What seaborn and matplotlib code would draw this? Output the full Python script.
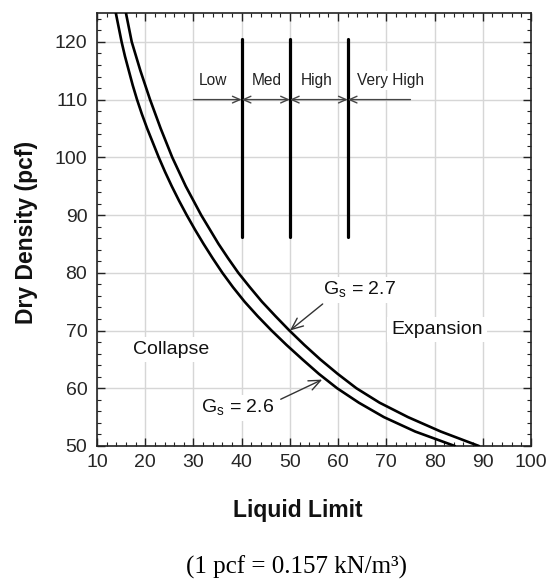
import numpy as np
import pandas as pd
import matplotlib
matplotlib.use("Agg")
import matplotlib.pyplot as plt
import seaborn as sns
from matplotlib.ticker import MultipleLocator

# ---- data ----
dens_26 = [125, 122.5, 120, 117.5, 115, 112.5, 110, 107.5, 105, 102.5, 100, 97.5, 95, 92.5,
           90, 87.5, 85, 82.5, 80, 77.5, 75, 72.5, 70, 67.5, 65, 62.5, 60, 57.5, 55, 52.5, 50]
ll_26 = [13.9, 14.5, 15.1, 15.8, 16.6, 17.4, 18.3, 19.3, 20.4, 21.6, 22.8, 24.1, 25.5, 27.0,
         28.6, 30.3, 32.1, 34.0, 36.0, 38.2, 40.6, 43.3, 46.2, 49.3, 52.6, 56.0, 59.8, 64.3,
         69.5, 76.0, 84.2]
dens_27 = [125, 122.5, 120, 117.5, 115, 112.5, 110, 107.5, 105, 102.5, 100, 97.5, 95, 92.5,
           90, 87.5, 85, 82.5, 80, 77.5, 75, 72.5, 70, 67.5, 65, 62.5, 60, 57.5, 55, 52.5, 50]
ll_27 = [16.0, 16.6, 17.2, 18.1, 19.0, 20.0, 21.0, 22.1, 23.2, 24.4, 25.6, 27.0, 28.4, 30.0,
         31.6, 33.4, 35.2, 37.2, 39.3, 41.7, 44.2, 47.0, 49.9, 53.0, 56.3, 59.9, 63.8, 68.6,
         74.5, 81.3, 89.2]

class_bounds = [40, 50, 62]
class_span = [30, 75]
class_labels = ["Low", "Med", "High", "Very High"]
class_label_x = [34.1, 45.2, 55.6, 70.8]
xticks = [10, 20, 30, 40, 50, 60, 70, 80, 90, 100]
yticks = [50, 60, 70, 80, 90, 100, 110, 120]

df = pd.DataFrame({
    "LL": ll_26 + ll_27,
    "dens": dens_26 + dens_27,
    "Gs": ["2.6"] * len(ll_26) + ["2.7"] * len(ll_27),
})

sns.set_theme(style="ticks")
plt.rcParams["font.family"] = ["Liberation Sans", "DejaVu Sans"]
plt.rcParams["mathtext.fontset"] = "custom"
plt.rcParams["mathtext.rm"] = "Liberation Sans"

fig = plt.figure(figsize=(5.49, 5.83), dpi=100)
ax = fig.add_axes([0.1767, 0.235, 0.7905, 0.7427])

sns.lineplot(data=df, x="LL", y="dens", hue="Gs", palette=["black", "black"],
             estimator=None, sort=False, lw=1.9, legend=False, ax=ax, zorder=4)

ax.set_xlim(10, 100)
ax.set_ylim(50, 125)
ax.set_xticks(xticks)
ax.set_yticks(yticks)
ax.xaxis.set_minor_locator(MultipleLocator(2))
ax.yaxis.set_minor_locator(MultipleLocator(2))
ax.tick_params(which="both", direction="in", top=True, right=True, color="#222222")
ax.tick_params(which="major", length=5.5, width=1, labelsize=14, pad=6)
ax.tick_params(axis="y", which="major", pad=7)
ax.tick_params(which="minor", length=3, width=0.8)
ax.grid(True, which="major", color="#d6d6d6", lw=1)
ax.set_axisbelow(True)
for s in ax.spines.values():
    s.set_color("#222222")
    s.set_linewidth(1.2)
ax.set_xlabel("")
ax.set_ylabel("")

# classification lines
ytop, ybot, yarr = 120.5, 86.2, 110
for xb in class_bounds:
    ax.plot([xb, xb], [ybot, ytop], color="black", lw=2.3, zorder=5)
edges = [class_span[0]] + class_bounds + [class_span[1]]
akw = dict(color="#444444", lw=1.0, shrinkA=0, shrinkB=0)
for i in range(len(edges) - 1):
    a, b = edges[i], edges[i + 1]
    if i == 0:
        ax.annotate("", xy=(b, yarr), xytext=(a, yarr),
                    arrowprops=dict(arrowstyle="->,head_length=0.45,head_width=0.2", **akw), zorder=5)
    elif i == len(edges) - 2:
        ax.annotate("", xy=(a, yarr), xytext=(b, yarr),
                    arrowprops=dict(arrowstyle="->,head_length=0.45,head_width=0.2", **akw), zorder=5)
    else:
        ax.annotate("", xy=(b, yarr), xytext=(a, yarr),
                    arrowprops=dict(arrowstyle="<->,head_length=0.45,head_width=0.2", **akw), zorder=5)
for lab, xl in zip(class_labels, class_label_x):
    ax.text(xl, 113.3, lab, ha="center", va="center", fontsize=11.2, color="#222222",
            bbox=dict(facecolor="white", edgecolor="none", pad=1.5), zorder=3)

# region labels
ax.text(25.4, 66.7, "Collapse", ha="center", va="center", fontsize=14, color="#111111",
        bbox=dict(facecolor="white", edgecolor="none", pad=3), zorder=3)
ax.text(80.45, 70.2, "Expansion", ha="center", va="center", fontsize=14, color="#111111",
        bbox=dict(facecolor="white", edgecolor="none", pad=3), zorder=3)

# Gs annotations
ax.text(56.9, 76.2, r"G$_\mathregular{s}$ = 2.7", ha="left", va="baseline", fontsize=14,
        color="#111111", bbox=dict(facecolor="white", edgecolor="none", pad=2), zorder=3)
ax.annotate("", xy=(50.0, 70.0), xytext=(56.8, 74.6),
            arrowprops=dict(arrowstyle="->,head_length=0.7,head_width=0.3", color="#333333",
                            lw=1.0, shrinkA=0, shrinkB=0), zorder=6)
ax.text(31.6, 55.8, r"G$_\mathregular{s}$ = 2.6", ha="left", va="baseline", fontsize=14,
        color="#111111", bbox=dict(facecolor="white", edgecolor="none", pad=2), zorder=3)
ax.annotate("", xy=(56.7, 61.5), xytext=(48.1, 58.1),
            arrowprops=dict(arrowstyle="->,head_length=0.7,head_width=0.3", color="#333333",
                            lw=1.0, shrinkA=0, shrinkB=0), zorder=6)

# axis titles
fig.text(298 / 549, 1 - 511 / 583, "Liquid Limit", ha="center", va="center",
         fontsize=16.5, fontweight="bold", color="#111111")
fig.text(27 / 549, 1 - 232 / 583, "Dry Density (pcf)", ha="center", va="center",
         rotation=90, fontsize=16.5, fontweight="bold", color="#111111")

fig.text(297 / 549, 1 - 567 / 583, "(1 pcf = 0.157 kN/m³)", ha="center", va="center",
         fontsize=18, family=["Liberation Serif", "DejaVu Serif"], color="black")

fig.savefig("out.png", dpi=100, facecolor="white")
